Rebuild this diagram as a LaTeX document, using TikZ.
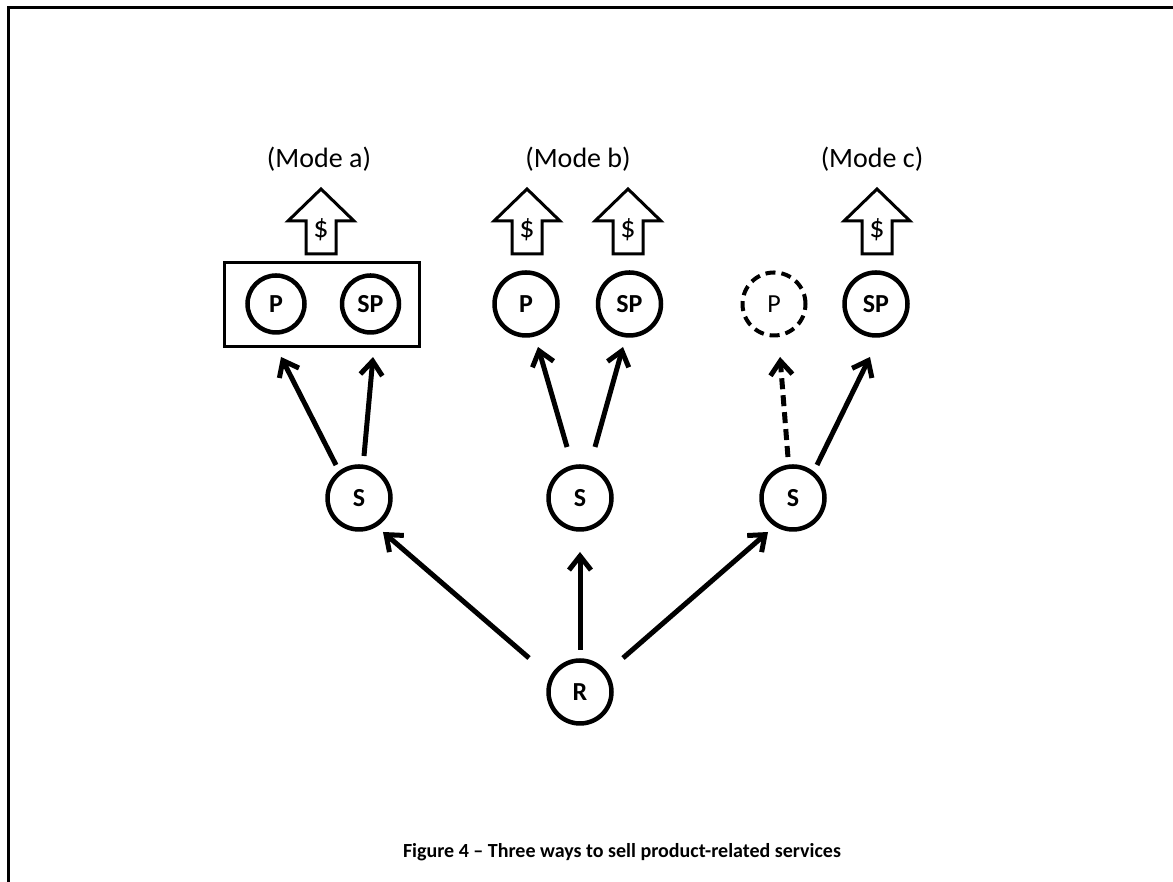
\documentclass[tikz,border=0pt]{standalone}
\usepackage{fontspec}
\setmainfont{Carlito}
\usetikzlibrary{arrows.meta,calc}
\begin{document}
\begin{tikzpicture}[x=1pt,y=1pt,
  circ/.style={circle, draw, line width=4.5pt, minimum size=63pt, inner sep=0pt,
    font=\fontsize{26}{26}\selectfont\bfseries},
  smallcirc/.style={circ, minimum size=57pt},
  ghost/.style={circ, dash pattern=on 10pt off 6pt, line width=4pt, font=\fontsize{26}{26}\selectfont},
  arr/.style={line width=5pt, -{Straight Barb[length=14pt,width=22pt]}},
  dasharr/.style={arr, dash pattern=on 11pt off 6pt},
  darrow/.style={draw, line width=3pt, line join=miter},
  dollar/.style={font=\fontsize{30}{30}\selectfont, inner sep=0pt},
  modelabel/.style={font=\fontsize{28}{28}\selectfont, inner sep=0pt},
  boxstyle/.style={draw, line width=3pt}
]
\useasboundingbox (0,0) rectangle (1173,882);
% frame
\draw[line width=3pt] (8,-5) -- (8,874) -- (1180,874);

% mode labels
\node[modelabel] (ma) at (319,723) {(Mode a)};
\node[modelabel] (mb) at (578,723) {(Mode b)};
\node[modelabel] (mc) at (872,723) {(Mode c)};

% dollar arrows
\newcommand\dollararrow[2]{%
  \draw[darrow] (#2,693) -- ++(33,-32) -- ++(-18,0) -- ++(0,-33) -- ++(-30,0) -- ++(0,33) -- ++(-18,0) -- cycle;
  \node[dollar] (#1) at (#2,652) {\$};}
\dollararrow{da}{321}
\dollararrow{db1}{527}
\dollararrow{db2}{628}
\dollararrow{dc}{877}

% mode a box
\draw[boxstyle] (224,535) rectangle (419,619);

% product nodes
\node[smallcirc] (aP) at (276,578) {P};
\node[smallcirc] (aSP) at (370.5,578) {SP};
\node[circ] (bP) at (526,578) {P};
\node[circ] (bSP) at (629.5,578) {SP};
\node[ghost] (cP) at (774,578) {P};
\node[circ] (cSP) at (876,578) {SP};

% service nodes
\node[circ] (S1) at (359,384) {S};
\node[circ] (S2) at (580,384) {S};
\node[circ] (S3) at (793,384) {S};
\node[circ] (R) at (580,190) {R};

% arrows
\draw[arr] ($(R)+(90:42)$) -- ($(S2)+(-90:54)$);
\draw[arr] ($(R)+(146.3:61.3)$) -- ($(S1)+(-54.8:41.6)$);
\draw[arr] ($(R)+(38.3:54.8)$) -- ($(S3)+(-126.3:42.2)$);

\draw[arr] ($(S1)+(124.9:40.2)$) -- ($(aP)+(-84.6:53.2)$);
\draw[arr] ($(S1)+(83.2:42.3)$) -- ($(aSP)+(-87.3:53.1)$);
\draw[arr] ($(S2)+(104.3:52.6)$) -- ($(bP)+(-74.4:44.6)$);
\draw[arr] ($(S2)+(73.6:53.2)$) -- ($(bSP)+(-98.6:43.5)$);
\draw[dasharr] ($(S3)+(97:41.3)$) -- ($(cP)+(-83.5:53.3)$);
\draw[arr] ($(S3)+(54:40.8)$) -- ($(cSP)+(-96.5:53.3)$);

% caption
\node[font=\fontsize{20}{20}\selectfont\bfseries, inner sep=0pt] (cap) at (622,30)
  {Figure 4 -- Three ways to sell product-related services};
\end{tikzpicture}
\end{document}
